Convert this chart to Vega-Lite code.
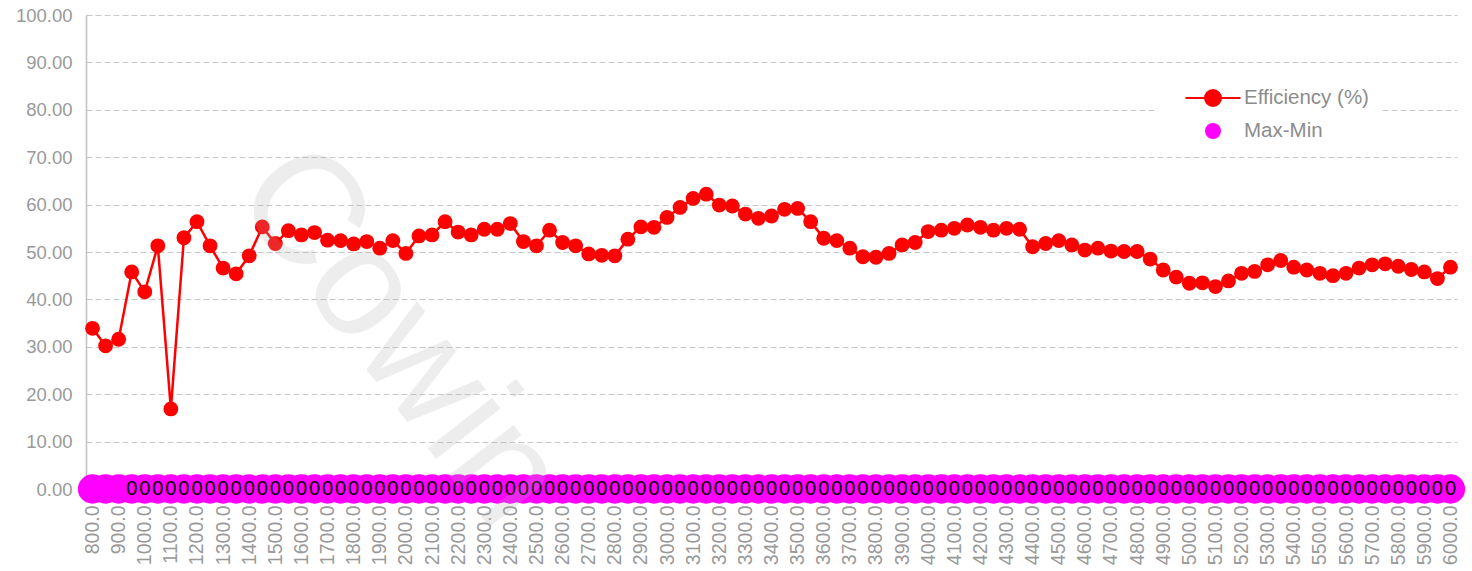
{
  "$schema": "https://vega.github.io/schema/vega-lite/v6.json",
  "width": 1371,
  "height": 474,
  "autosize": "none",
  "padding": {"left": 86, "top": 15, "right": 15, "bottom": 82},
  "background": "white",
  "config": {
    "view": {"stroke": null},
    "font": "Liberation Sans"
  },
  "data": {
    "values": [
      {"rpm": 800, "eff": 33.9, "mm": 0}, {"rpm": 850, "eff": 30.2, "mm": 0}, {"rpm": 900, "eff": 31.6, "mm": 0},
      {"rpm": 950, "eff": 45.8, "mm": 0}, {"rpm": 1000, "eff": 41.6, "mm": 0}, {"rpm": 1050, "eff": 51.3, "mm": 0},
      {"rpm": 1100, "eff": 16.9, "mm": 0}, {"rpm": 1150, "eff": 53.0, "mm": 0}, {"rpm": 1200, "eff": 56.4, "mm": 0},
      {"rpm": 1250, "eff": 51.3, "mm": 0}, {"rpm": 1300, "eff": 46.6, "mm": 0}, {"rpm": 1350, "eff": 45.4, "mm": 0},
      {"rpm": 1400, "eff": 49.2, "mm": 0}, {"rpm": 1450, "eff": 55.3, "mm": 0}, {"rpm": 1500, "eff": 51.8, "mm": 0},
      {"rpm": 1550, "eff": 54.5, "mm": 0}, {"rpm": 1600, "eff": 53.6, "mm": 0}, {"rpm": 1650, "eff": 54.1, "mm": 0},
      {"rpm": 1700, "eff": 52.5, "mm": 0}, {"rpm": 1750, "eff": 52.4, "mm": 0}, {"rpm": 1800, "eff": 51.7, "mm": 0},
      {"rpm": 1850, "eff": 52.2, "mm": 0}, {"rpm": 1900, "eff": 50.8, "mm": 0}, {"rpm": 1950, "eff": 52.4, "mm": 0},
      {"rpm": 2000, "eff": 49.7, "mm": 0}, {"rpm": 2050, "eff": 53.4, "mm": 0}, {"rpm": 2100, "eff": 53.6, "mm": 0},
      {"rpm": 2150, "eff": 56.4, "mm": 0}, {"rpm": 2200, "eff": 54.2, "mm": 0}, {"rpm": 2250, "eff": 53.6, "mm": 0},
      {"rpm": 2300, "eff": 54.8, "mm": 0}, {"rpm": 2350, "eff": 54.8, "mm": 0}, {"rpm": 2400, "eff": 56.0, "mm": 0},
      {"rpm": 2450, "eff": 52.2, "mm": 0}, {"rpm": 2500, "eff": 51.3, "mm": 0}, {"rpm": 2550, "eff": 54.6, "mm": 0},
      {"rpm": 2600, "eff": 52.0, "mm": 0}, {"rpm": 2650, "eff": 51.3, "mm": 0}, {"rpm": 2700, "eff": 49.6, "mm": 0},
      {"rpm": 2750, "eff": 49.3, "mm": 0}, {"rpm": 2800, "eff": 49.2, "mm": 0}, {"rpm": 2850, "eff": 52.7, "mm": 0},
      {"rpm": 2900, "eff": 55.3, "mm": 0}, {"rpm": 2950, "eff": 55.2, "mm": 0}, {"rpm": 3000, "eff": 57.3, "mm": 0},
      {"rpm": 3050, "eff": 59.4, "mm": 0}, {"rpm": 3100, "eff": 61.3, "mm": 0}, {"rpm": 3150, "eff": 62.2, "mm": 0},
      {"rpm": 3200, "eff": 59.9, "mm": 0}, {"rpm": 3250, "eff": 59.7, "mm": 0}, {"rpm": 3300, "eff": 58.0, "mm": 0},
      {"rpm": 3350, "eff": 57.1, "mm": 0}, {"rpm": 3400, "eff": 57.6, "mm": 0}, {"rpm": 3450, "eff": 59.0, "mm": 0},
      {"rpm": 3500, "eff": 59.2, "mm": 0}, {"rpm": 3550, "eff": 56.4, "mm": 0}, {"rpm": 3600, "eff": 52.9, "mm": 0},
      {"rpm": 3650, "eff": 52.4, "mm": 0}, {"rpm": 3700, "eff": 50.8, "mm": 0}, {"rpm": 3750, "eff": 49.0, "mm": 0},
      {"rpm": 3800, "eff": 48.9, "mm": 0}, {"rpm": 3850, "eff": 49.7, "mm": 0}, {"rpm": 3900, "eff": 51.5, "mm": 0},
      {"rpm": 3950, "eff": 52.0, "mm": 0}, {"rpm": 4000, "eff": 54.3, "mm": 0}, {"rpm": 4050, "eff": 54.6, "mm": 0},
      {"rpm": 4100, "eff": 55.0, "mm": 0}, {"rpm": 4150, "eff": 55.7, "mm": 0}, {"rpm": 4200, "eff": 55.2, "mm": 0},
      {"rpm": 4250, "eff": 54.6, "mm": 0}, {"rpm": 4300, "eff": 55.0, "mm": 0}, {"rpm": 4350, "eff": 54.8, "mm": 0},
      {"rpm": 4400, "eff": 51.1, "mm": 0}, {"rpm": 4450, "eff": 51.8, "mm": 0}, {"rpm": 4500, "eff": 52.4, "mm": 0},
      {"rpm": 4550, "eff": 51.5, "mm": 0}, {"rpm": 4600, "eff": 50.4, "mm": 0}, {"rpm": 4650, "eff": 50.8, "mm": 0},
      {"rpm": 4700, "eff": 50.2, "mm": 0}, {"rpm": 4750, "eff": 50.1, "mm": 0}, {"rpm": 4800, "eff": 50.1, "mm": 0},
      {"rpm": 4850, "eff": 48.5, "mm": 0}, {"rpm": 4900, "eff": 46.2, "mm": 0}, {"rpm": 4950, "eff": 44.7, "mm": 0},
      {"rpm": 5000, "eff": 43.4, "mm": 0}, {"rpm": 5050, "eff": 43.5, "mm": 0}, {"rpm": 5100, "eff": 42.7, "mm": 0},
      {"rpm": 5150, "eff": 43.9, "mm": 0}, {"rpm": 5200, "eff": 45.5, "mm": 0}, {"rpm": 5250, "eff": 45.9, "mm": 0},
      {"rpm": 5300, "eff": 47.3, "mm": 0}, {"rpm": 5350, "eff": 48.2, "mm": 0}, {"rpm": 5400, "eff": 46.8, "mm": 0},
      {"rpm": 5450, "eff": 46.2, "mm": 0}, {"rpm": 5500, "eff": 45.5, "mm": 0}, {"rpm": 5550, "eff": 45.0, "mm": 0},
      {"rpm": 5600, "eff": 45.5, "mm": 0}, {"rpm": 5650, "eff": 46.6, "mm": 0}, {"rpm": 5700, "eff": 47.3, "mm": 0},
      {"rpm": 5750, "eff": 47.5, "mm": 0}, {"rpm": 5800, "eff": 47.0, "mm": 0}, {"rpm": 5850, "eff": 46.3, "mm": 0},
      {"rpm": 5900, "eff": 45.8, "mm": 0}, {"rpm": 5950, "eff": 44.4, "mm": 0}, {"rpm": 6000, "eff": 46.8, "mm": 0}
    ]
  },
  "encoding": {
    "x": {
      "field": "rpm",
      "type": "quantitative",
      "scale": {"domain": [775, 6025], "nice": false, "zero": false},
      "axis": {
        "title": null,
        "values": [800, 900, 1000, 1100, 1200, 1300, 1400, 1500, 1600, 1700, 1800, 1900, 2000, 2100, 2200, 2300, 2400, 2500, 2600, 2700, 2800, 2900, 3000, 3100, 3200, 3300, 3400, 3500, 3600, 3700, 3800, 3900, 4000, 4100, 4200, 4300, 4400, 4500, 4600, 4700, 4800, 4900, 5000, 5100, 5200, 5300, 5400, 5500, 5600, 5700, 5800, 5900, 6000],
        "labelExpr": "format(datum.value, '.1f')",
        "labelAngle": 270,
        "labelFontSize": 19.5,
        "labelColor": "#999999",
        "labelFont": "Liberation Sans",
        "labelPadding": 16,
        "labelOverlap": false,
        "labelBound": false,
        "labelFlush": false,
        "ticks": false,
        "grid": false,
        "domainColor": "#bfbfbf"
      }
    }
  },
  "layer": [
    {
      "mark": {"type": "line", "color": "#FF0000", "strokeWidth": 2.5},
      "encoding": {
        "y": {
          "field": "eff",
          "type": "quantitative",
          "scale": {"domain": [0, 100], "nice": false},
          "axis": {
            "title": null,
            "values": [0, 10, 20, 30, 40, 50, 60, 70, 80, 90, 100],
            "format": ".2f",
            "labelFontSize": 18.5,
            "labelColor": "#999999",
            "labelFont": "Liberation Sans",
            "labelPadding": 14,
            "ticks": false,
            "domainColor": "#bfbfbf",
            "domainWidth": 1.5,
            "gridColor": "#c8c8c8",
            "gridDash": [6, 3],
            "gridWidth": 1.2
          }
        },
        "color": {
          "datum": "Efficiency (%)",
          "type": "nominal",
          "scale": {"domain": ["Efficiency (%)", "Max-Min"], "range": ["#FF0000", "#FF00FF"]},
          "legend": {
            "title": null,
            "orient": "none",
            "legendX": 1072,
            "legendY": 60,
            "fillColor": "white",
            "padding": 12,
            "labelFont": "Liberation Sans",
            "labelFontSize": 20.5,
            "labelColor": "#8c8c8c",
            "symbolSize": 400,
            "symbolOffset": 32,
            "labelOffset": 20,
            "rowPadding": 10,
            "symbolStrokeWidth": 2,
            "encode": {
              "symbols": {
                "update": {
                  "shape": {"signal": "datum.value === 'Max-Min' ? 'M0.7,0A0.7,0.7,0,1,1,-0.7,0A0.7,0.7,0,1,1,0.7,0Z' : 'M-2.75,0L2.75,0M0.8,0A0.8,0.8,0,1,1,-0.8,0A0.8,0.8,0,1,1,0.8,0Z'"},
                  "fill": {"signal": "datum.value === 'Max-Min' ? '#FF00FF' : '#FF0000'"},
                  "stroke": {"signal": "datum.value === 'Max-Min' ? '#FF00FF' : '#FF0000'"},
                  "strokeWidth": {"value": 2},
                  "opacity": {"value": 1}
                }
              }
            }
          }
        }
      }
    },
    {
      "mark": {"type": "point", "filled": true, "size": 220, "opacity": 1},
      "encoding": {
        "y": {"field": "eff", "type": "quantitative"},
        "color": {"datum": "Efficiency (%)", "type": "nominal"}
      }
    },
    {
      "mark": {"type": "point", "filled": true, "size": 860, "opacity": 1},
      "encoding": {
        "y": {"field": "mm", "type": "quantitative"},
        "color": {"datum": "Max-Min", "type": "nominal"}
      }
    },
    {
      "transform": [{"filter": "datum.rpm >= 950"}],
      "mark": {"type": "text", "fontSize": 20, "color": "#000000", "font": "Liberation Sans", "baseline": "middle", "align": "center"},
      "encoding": {
        "y": {"field": "mm", "type": "quantitative"},
        "text": {"field": "mm", "type": "quantitative", "format": "d"}
      }
    },
    {
      "data": {"values": [{"rpm": 1470, "v": 68, "label": "Cowin"}]},
      "mark": {"type": "text", "fontSize": 155, "angle": 52, "align": "left", "baseline": "middle", "color": "#b0b0b0", "opacity": 0.22, "font": "Liberation Sans"},
      "encoding": {
        "y": {"field": "v", "type": "quantitative"},
        "text": {"field": "label"}
      }
    }
  ]
}
